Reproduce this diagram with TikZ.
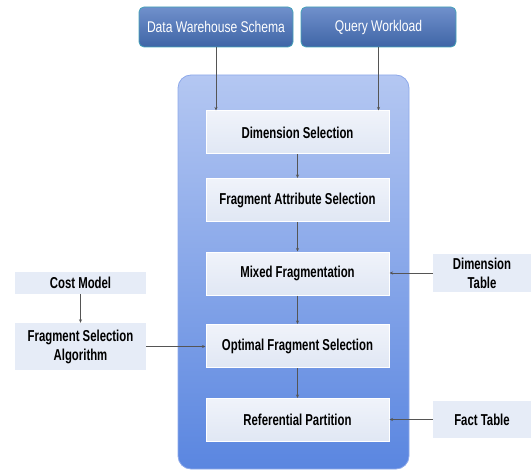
\documentclass[tikz,border=0pt]{standalone}
\usepackage{fontspec}
\setmainfont{Liberation Sans}[FakeStretch=0.72]
\newfontfamily\headfont{Liberation Sans}[FakeStretch=0.78]
\usetikzlibrary{arrows.meta}
\definecolor{hdtop}{HTML}{7090CC}
\definecolor{hdbot}{HTML}{3F65A6}
\definecolor{hdedge}{HTML}{45A3B8}
\definecolor{pnltop}{HTML}{B4C7F2}
\definecolor{pnlbot}{HTML}{5A86E0}
\definecolor{pnledge}{HTML}{8EA9EA}
\definecolor{stagetop}{HTML}{F0F3FA}
\definecolor{stagebot}{HTML}{E0E7F4}
\definecolor{sidefill}{HTML}{E6ECF7}
\definecolor{linkcol}{HTML}{555555}
\tikzset{
  x=1pt, y=-1pt,
  header/.style={draw=hdedge, line width=0.8pt, rounded corners=5pt,
    top color=hdtop, bottom color=hdbot, text=white,
    font=\headfont\fontsize{15.5}{18}\selectfont, inner sep=0pt, align=center},
  stagebox/.style={draw=white, line width=1pt, top color=stagetop, bottom color=stagebot,
    minimum width=183pt, minimum height=43pt, inner sep=0pt, align=center,
    font=\bfseries\fontsize{15.8}{19}\selectfont},
  sidebox/.style={fill=sidefill, inner sep=0pt, align=center,
    font=\bfseries\fontsize{15.8}{19}\selectfont},
  link/.style={draw=linkcol, line width=0.9pt, -{Stealth[length=3.5pt,width=3pt]}},
}
\begin{document}
\begin{tikzpicture}
\useasboundingbox (0,0) rectangle (532,470);
% enclosing panel
\path[draw=pnledge, line width=0.8pt, rounded corners=13pt, top color=pnltop, bottom color=pnlbot]
  (178,75) rectangle (409,469);
% input headers
\node[header, minimum width=154pt, minimum height=40pt] (dws) at (216,27) {Data Warehouse Schema};
\node[header, minimum width=155pt, minimum height=40pt] (qw) at (378.5,27) {Query Workload};
% processing stages
\node[stagebox] (ds)  at (297.5,132.5) {Dimension Selection};
\node[stagebox] (fas) at (297.5,200)   {Fragment Attribute Selection};
\node[stagebox] (mf)  at (297.5,273.5) {Mixed Fragmentation};
\node[stagebox] (ofs) at (297.5,346)   {Optimal Fragment Selection};
\node[stagebox] (rp)  at (297.5,420)   {Referential Partition};
% side inputs
\node[sidebox, minimum width=131pt, minimum height=22pt] (cm)  at (80.5,283)   {Cost Model};
\node[sidebox, minimum width=131pt, minimum height=47pt] (fsa) at (80.5,346.5) {Fragment Selection\\Algorithm};
\node[sidebox, minimum width=98pt, minimum height=38pt]  (dt)  at (482,273)    {Dimension\\Table};
\node[sidebox, minimum width=98pt, minimum height=37pt]  (ft)  at (482,419.5)  {Fact Table};
% connectors
\draw[link] (dws.south) -- (dws.south |- ds.north);
\draw[link] (qw.south) -- (qw.south |- ds.north);
\draw[link] (ds) -- (fas);
\draw[link] (fas) -- (mf);
\draw[link] (mf) -- (ofs);
\draw[link] (ofs) -- (rp);
\draw[link] (cm) -- (fsa);
\draw[link] (fsa.east) -- (fsa.east -| ofs.west);
\draw[link] (dt.west) -- (dt.west -| mf.east);
\draw[link] (ft.west) -- (ft.west -| rp.east);
\end{tikzpicture}
\end{document}
